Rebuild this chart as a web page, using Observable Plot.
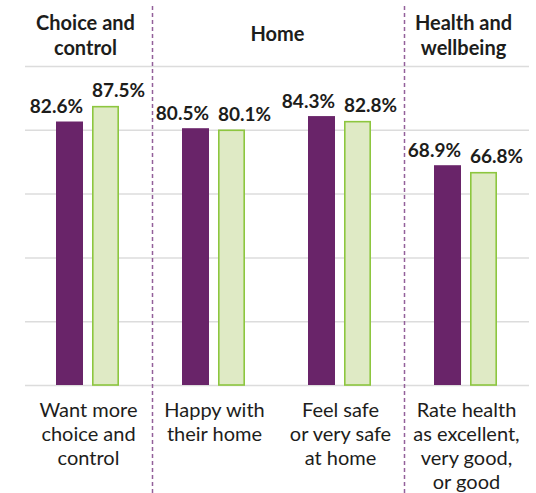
<!DOCTYPE html>
<html>
<head>
<meta charset="utf-8">
<script src="https://cdn.jsdelivr.net/npm/d3@7"></script>
<script src="https://cdn.jsdelivr.net/npm/@observablehq/plot@0.6"></script>
<style>
  html, body { margin: 0; padding: 0; background: #fff; }
  #chart { width: 536px; height: 493px; }
</style>
</head>
<body>
<div id="chart"></div>
<script>
// ---- Data ----
const categories = [
  "Want more\nchoice and\ncontrol",
  "Happy with\ntheir home",
  "Feel safe\nor very safe\nat home",
  "Rate health\nas excellent,\nvery good,\nor good"
];
const seriesNames = ["Series 1", "Series 2"];
const series1Values = [82.6, 80.5, 84.3, 68.9];
const series2Values = [87.5, 80.1, 82.8, 66.8];
const yTicks = [0, 20, 40, 60, 80, 100];
const groupHeaders = ["Choice and\ncontrol", "Home", "Health and\nwellbeing"];
const headerCategory = [0, 1, 3]; // index of category each header sits over
const separatorAfter = [0, 2];    // dashed separator after these category indexes

// ---- Styles ----
const purple = "#692469";
const greenFill = "#dfeac5";
const greenStroke = "#8dc63f";
const gridColor = "#dcdcdc";
const textColor = "#1d1d1b";
const sepColor = "#93609a";

const rows = [];
categories.forEach((c, i) => {
  rows.push({category: c, series: seriesNames[0], value: series1Values[i]});
  rows.push({category: c, series: seriesNames[1], value: series2Values[i]});
});

const headersCentered = [
  {category: categories[headerCategory[0]], label: groupHeaders[0]},
  {category: categories[headerCategory[2]], label: groupHeaders[2]}
];
const headersSpanning = [
  {category: categories[headerCategory[1]], label: groupHeaders[1]}
];

const W = 536, H = 493;
const rowsA = rows.filter(d => d.series === seriesNames[0]);
const rowsB = rows.filter(d => d.series === seriesNames[1]);
const fmt = d => d.value.toFixed(1) + "%";

const plot = Plot.plot({
  width: W,
  height: H,
  marginLeft: 23,
  marginRight: 6,
  marginTop: 66,
  marginBottom: 108,
  style: {fontFamily: "Lato, 'Open Sans', sans-serif", color: textColor, background: "#fff"},
  fx: {domain: categories, padding: 0, axis: null},
  x: {domain: seriesNames, paddingInner: 0.247, paddingOuter: 0.86, axis: null},
  y: {domain: [0, 100], axis: null},
  marks: [
    Plot.ruleY(yTicks, {y: d => d, stroke: gridColor, strokeWidth: 1.5}),
    Plot.barY(rowsA, {
      fx: "category", x: "series", y: "value", fill: purple
    }),
    Plot.barY(rowsB, {
      fx: "category", x: "series", y: "value", fill: greenFill,
      stroke: greenStroke, strokeWidth: 1.6, insetLeft: 0.8, insetRight: 0.8, insetTop: 0.8
    }),
    Plot.text(rowsA, {
      fx: "category", x: "series", y: "value", text: fmt,
      textAnchor: "end", dx: 13,
      lineAnchor: "bottom", dy: -9,
      fontSize: 19, fontWeight: "bold"
    }),
    Plot.text(rowsB, {
      fx: "category", x: "series", y: "value", text: fmt,
      textAnchor: "start", dx: -14,
      lineAnchor: "bottom", dy: -9,
      fontSize: 19, fontWeight: "bold"
    }),
    Plot.text(categories, {
      fx: d => d, text: d => d,
      frameAnchor: "bottom", lineAnchor: "top", dy: 14,
      fontSize: 20, lineHeight: 1.2
    }),
    Plot.text(headersCentered, {
      fx: "category", text: "label",
      frameAnchor: "top", lineAnchor: "middle", dy: -32, dx: -3,
      fontSize: 20, fontWeight: "bold", lineHeight: 1.25
    }),
    Plot.text(headersSpanning, {
      fx: "category", text: "label",
      frameAnchor: "top-right", textAnchor: "middle", lineAnchor: "middle", dy: -32,
      fontSize: 20, fontWeight: "bold"
    })
  ]
});

document.getElementById("chart").appendChild(plot);

// Dashed separators between group sections, spanning the full figure height
const fxScale = plot.scale("fx");
const svg = d3.select(plot.tagName.toLowerCase() === "svg" ? plot : plot.querySelector("svg"));
separatorAfter.forEach(i => {
  const xPos = fxScale.apply(categories[i + 1]);
  svg.append("line")
    .attr("x1", xPos + 1.5).attr("x2", xPos + 1.5)
    .attr("y1", 6).attr("y2", H)
    .attr("stroke", sepColor)
    .attr("stroke-width", 1.5)
    .attr("stroke-dasharray", "4,3");
});
</script>
</body>
</html>
